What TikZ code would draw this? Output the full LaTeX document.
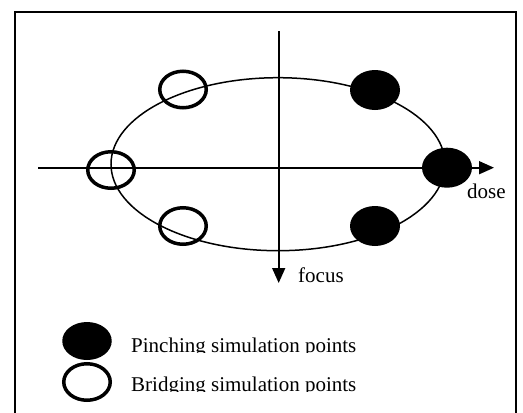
\documentclass[tikz,border=0pt]{standalone}
\usepackage{fontspec}
\setmainfont{Liberation Serif}
\usetikzlibrary{shapes.geometric,arrows.meta}
\begin{document}
\begin{tikzpicture}[x=1pt,y=-1pt,
  lbl/.style={inner sep=0pt,anchor=base west,font=\fontsize{21}{24}\selectfont},
  pinch/.style={ellipse,fill=black,draw=none,minimum width=50pt,minimum height=40pt,inner sep=0pt},
  bridge/.style={ellipse,draw=black,line width=3.5pt,minimum width=46.5pt,minimum height=36.5pt,inner sep=0pt},
  axis/.style={line width=1.6pt,-{Triangle[length=15pt,width=13pt]}}]
\useasboundingbox (0,0) rectangle (523,413);
% frame
\draw[line width=2pt] (15,420) -- (15,12) -- (516,12) -- (516,420);
% axes
\coordinate (xs) at (38,167.7);
\coordinate (xe) at (494,167.7);
\coordinate (ys) at (278.7,31);
\coordinate (ye) at (278.7,283);
\draw[axis] (xs) -- (xe);
\draw[axis] (ys) -- (ye);
% big ellipse
\draw[line width=1.5pt] (278,164.2) ellipse [x radius=167pt, y radius=86.5pt];
% bridging points
\node[bridge] (b1) at (183,89.5) {};
\node[bridge] (b2) at (111,170) {};
\node[bridge] (b3) at (183,226) {};
% pinching points
\node[pinch] (p1) at (375,90) {};
\node[pinch] (p2) at (447,167.7) {};
\node[pinch] (p3) at (375,226) {};
% axis labels
\node[lbl] (dose) at (467,198) {dose};
\node[lbl] (focus) at (298,282) {focus};
% legend
\node[pinch,minimum width=49.5pt,minimum height=38pt] (lp) at (87,341) {};
\node[bridge] (lb) at (87,382) {};
\begin{scope}
\clip (120,325) rectangle (400,352.8);
\node[lbl] (tp) at (131,352) {Pinching simulation points};
\end{scope}
\begin{scope}
\clip (120,365) rectangle (400,391.8);
\node[lbl] (tb) at (131,391) {Bridging simulation points};
\end{scope}
\end{tikzpicture}
\end{document}
